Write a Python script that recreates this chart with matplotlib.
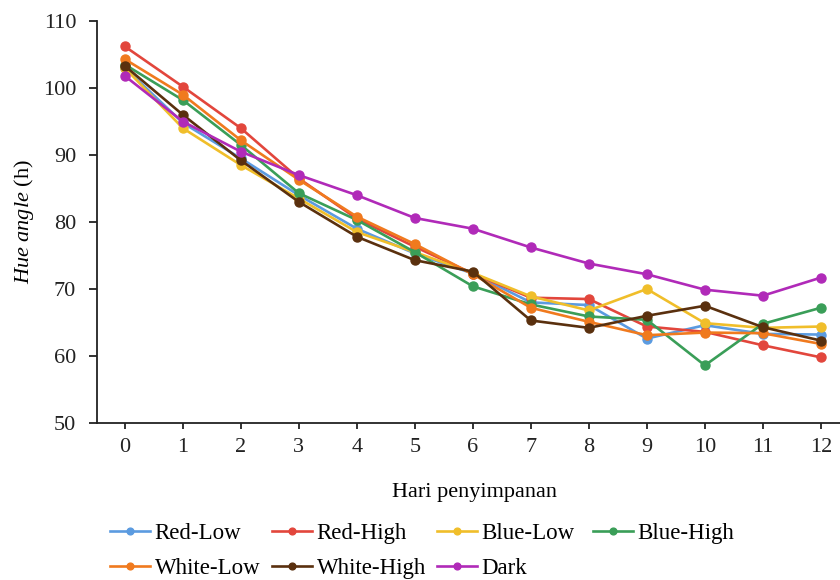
import matplotlib
matplotlib.use("Agg")
import matplotlib.pyplot as plt

days = list(range(13))
red_low    = [103.0, 94.8, 89.5, 84.0, 79.0, 75.3, 72.3, 68.0, 67.6, 62.6, 64.6, 63.3, 63.2]
red_high   = [106.2, 100.2, 94.0, 86.5, 80.5, 76.3, 72.3, 68.7, 68.5, 64.4, 63.6, 61.6, 59.8]
blue_low   = [103.0, 94.0, 88.5, 83.5, 78.5, 75.5, 72.4, 68.9, 66.8, 70.0, 64.9, 64.2, 64.4]
blue_high  = [103.5, 98.2, 91.5, 84.3, 80.3, 75.5, 70.4, 67.7, 65.9, 65.4, 58.6, 64.8, 67.2]
white_low  = [104.3, 99.0, 92.2, 86.3, 80.8, 76.7, 72.2, 67.2, 65.1, 63.1, 63.5, 63.4, 61.8]
white_high = [103.3, 96.0, 89.2, 83.0, 77.8, 74.3, 72.6, 65.3, 64.2, 66.0, 67.5, 64.3, 62.3]
dark       = [101.8, 95.0, 90.5, 87.0, 84.0, 80.6, 79.0, 76.2, 73.8, 72.2, 69.9, 69.0, 71.7]

series = [
    ("Red-Low", red_low, "#5B9BE0"),
    ("Red-High", red_high, "#E2463C"),
    ("Blue-Low", blue_low, "#F0BE2A"),
    ("Blue-High", blue_high, "#3A9E58"),
    ("White-Low", white_low, "#F07A1E"),
    ("White-High", white_high, "#5A300E"),
    ("Dark", dark, "#B02AB8"),
]

plt.rcParams['font.family'] = ['Liberation Serif', 'DejaVu Serif']
plt.rcParams['mathtext.fontset'] = 'custom'
plt.rcParams['mathtext.rm'] = 'Liberation Serif'
plt.rcParams['mathtext.it'] = 'Liberation Serif:italic'

fig = plt.figure(figsize=(8.4, 5.8), dpi=100)
ax = fig.add_axes([97/840, 1-423/580, 1-97/840, (423-21)/580])

handles = {}
for name, vals, col in series:
    h, = ax.plot(days, vals, color=col, lw=1.9, marker='o', ms=6.5, label=name)
    handles[name] = h

ax.set_xlim(-0.48, 12.33)
ax.set_ylim(50, 110)
ax.set_xticks(days)
ax.set_yticks(range(50, 111, 10))
for s in ['top', 'right']:
    ax.spines[s].set_visible(False)
for s in ['left', 'bottom']:
    ax.spines[s].set_linewidth(1.3)
    ax.spines[s].set_color('#222222')
ax.tick_params(axis='both', labelsize=16, colors='#222222', width=1.3, direction='out')
ax.tick_params(axis='y', length=6, pad=9)
ax.tick_params(axis='x', length=4, pad=7)

ax.set_ylabel(r"$\mathit{Hue\ angle}$ (h)", fontsize=16, labelpad=5)
fig.text(474/840, 1-492/580, "Hari penyimpanan", ha='center', va='center', fontsize=16)

# legend laid out as fixed-width columns (row-major: 4 on first row, 3 on second)
legend_cols = [["Red-Low", "White-Low"], ["Red-High", "White-High"],
               ["Blue-Low", "Dark"], ["Blue-High"]]
col_x = [110, 272, 437, 593]
for names, x in zip(legend_cols, col_x):
    fig.legend([handles[n] for n in names], names, loc='upper left',
               bbox_to_anchor=(x/840, 1-523/580), ncol=1, frameon=False,
               fontsize=16.5, handlelength=1.75, handletextpad=0.2,
               labelspacing=0.62, markerscale=0.75, borderpad=0, borderaxespad=0)

fig.savefig("out.png", dpi=100)
